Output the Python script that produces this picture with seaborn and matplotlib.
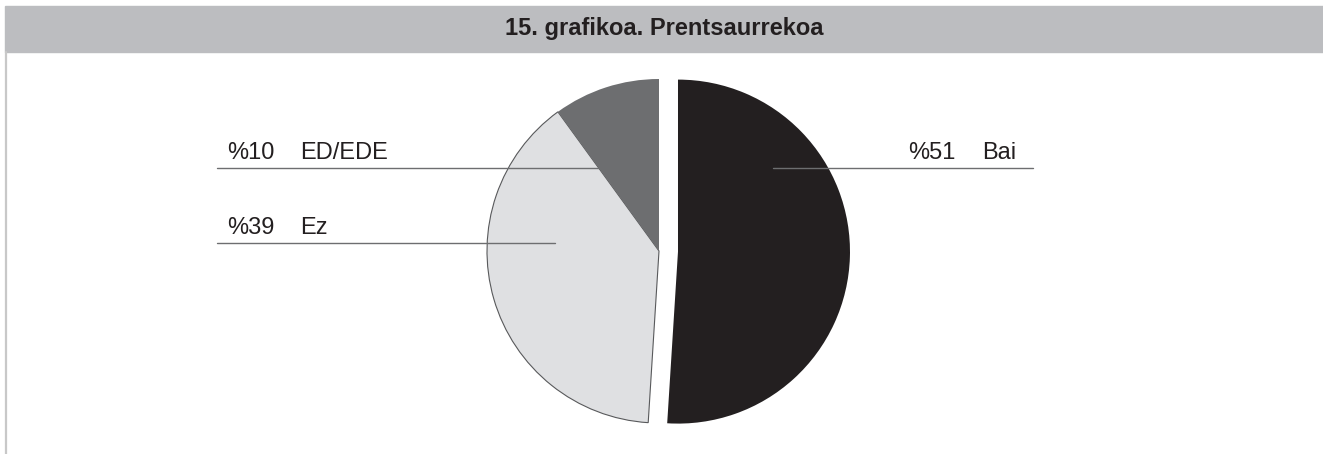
import matplotlib.pyplot as plt
import seaborn as sns
from matplotlib.patches import Rectangle

# Data
categories = ['Bai', 'Ez', 'ED/EDE']
shares = [51, 39, 10]
slice_colors = ['#231f20', '#dfe0e2', '#6d6e70']
title = '15. grafikoa. Prentsaurrekoa'

sns.set_theme(style='white')
plt.rcParams['font.family'] = ['Liberation Sans', 'DejaVu Sans']

W, H = 1323, 454
fig = plt.figure(figsize=(W / 100, H / 100), dpi=100)
ax = fig.add_axes([0, 0, 1, 1])

# Pie (Bai pulled out to the right); explode is in data units here
center = (659, 203)
radius = 172
wedges, _ = ax.pie(shares, colors=slice_colors, startangle=90, counterclock=False,
                   explode=[19, 0, 0], center=center, radius=radius,
                   wedgeprops=dict(linewidth=0))
wedges[1].set_edgecolor('#58595b')
wedges[1].set_linewidth(0.8)

ax.set_xlim(0, W)
ax.set_ylim(0, H)
ax.axis('off')

# Header band and left rule
ax.add_patch(Rectangle((5, H - 52), W - 5, 46, color='#bcbdc0', zorder=0))
ax.plot([6, 6], [0, H - 52], color='#c8c8c8', lw=1.6, zorder=0)
ax.text(664, H - 35, title, ha='center', va='baseline', fontsize=17,
        fontweight='bold', color='#231f20')

# Labels with leader lines: (text x, value x, line y, line x0, line x1)
label_layout = {
    'ED/EDE': (227, 300, H - 167.5, 217, 640),
    'Ez': (227, 300, H - 242.5, 217, 555),
    'Bai': (908, 982, H - 167.5, 773, 1033),
}
for name, share in zip(categories, shares):
    px, nx, ly, x0, x1 = label_layout[name]
    ax.plot([x0, x1], [ly, ly], color='#6d6e70', lw=1.0, zorder=3)
    ax.text(px, ly + 8.5, f'%{share}', ha='left', va='baseline', fontsize=17, color='#231f20')
    ax.text(nx, ly + 8.5, name, ha='left', va='baseline', fontsize=17, color='#231f20')

fig.savefig('out.png', dpi=100)
